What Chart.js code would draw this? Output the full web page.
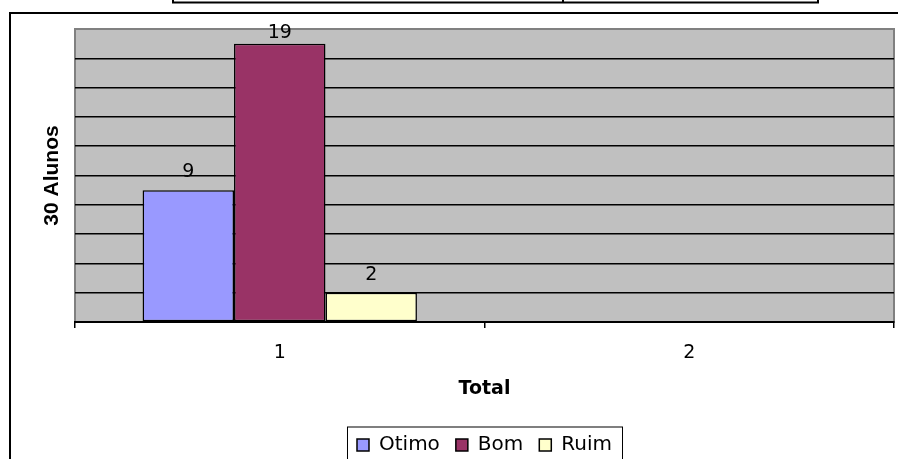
<!DOCTYPE html>
<html>
<head>
<meta charset="utf-8">
<script src="https://cdn.jsdelivr.net/npm/chart.js@4.4.0/dist/chart.umd.min.js"></script>
<style>
  html, body { margin: 0; padding: 0; background: #fff; }
  canvas { display: block; }
</style>
</head>
<body>
<canvas id="chart" width="898" height="459"></canvas>
<script>
// values
const categories = ['1', '2'];
const otimo = [9, null];
const bom = [19, null];
const ruim = [2, null];
const seriesNames = ['Otimo', 'Bom', 'Ruim'];
const seriesColors = ['#9999FF', '#993366', '#FFFFCC'];
const yMax = 20;
const yStep = 2;

const wide = "'DejaVu Sans', sans-serif";
const arial = "'Liberation Sans', Arial, sans-serif";

Chart.defaults.color = '#000';

// grey plot area, outer frame and the bit of table above the chart
const framePlugin = {
  id: 'frame',
  beforeDraw(chart) {
    const { ctx, chartArea: a } = chart;
    ctx.save();
    ctx.fillStyle = '#fff';
    ctx.fillRect(0, 0, chart.width, chart.height);
    ctx.fillStyle = '#C0C0C0';
    ctx.fillRect(a.left, a.top, a.right - a.left, a.bottom - a.top);
    ctx.strokeStyle = '#808080';
    ctx.lineWidth = 2;
    ctx.strokeRect(a.left, a.top, a.right - a.left, a.bottom - a.top);

    ctx.strokeStyle = '#000';
    ctx.lineWidth = 2;
    ctx.beginPath();
    ctx.moveTo(10, chart.height);
    ctx.lineTo(10, 13);
    ctx.lineTo(chart.width, 13);
    ctx.stroke();

    ctx.beginPath();
    ctx.moveTo(173, 0);
    ctx.lineTo(173, 2.5);
    ctx.lineTo(818, 2.5);
    ctx.lineTo(818, 0);
    ctx.moveTo(563, 0);
    ctx.lineTo(563, 2.5);
    ctx.stroke();
    ctx.restore();
  },
  afterLayout(chart) {
    // centre the legend under the plot area
    const lg = chart.legend;
    if (lg) {
      lg.left = chart.chartArea.left;
      lg.right = chart.chartArea.right;
    }
  },
  afterDraw(chart) {
    const lg = chart.legend;
    if (!lg || !lg.legendHitBoxes.length) return;
    const boxes = lg.legendHitBoxes;
    const first = boxes[0];
    const last = boxes[boxes.length - 1];
    const { ctx } = chart;
    ctx.save();
    ctx.strokeStyle = '#000';
    ctx.lineWidth = 1;
    ctx.strokeRect(first.left - 9.5, first.top - 8, last.left + last.width - first.left + 20, 60);
    ctx.restore();
  }
};

// numbers above the bars, kept inside the plot area
const valueLabels = {
  id: 'valueLabels',
  afterDatasetsDraw(chart) {
    const { ctx, chartArea } = chart;
    ctx.save();
    ctx.font = `19px ${wide}`;
    ctx.fillStyle = '#000';
    ctx.textAlign = 'center';
    ctx.textBaseline = 'alphabetic';
    chart.data.datasets.forEach((ds, i) => {
      chart.getDatasetMeta(i).data.forEach((bar, j) => {
        const v = ds.data[j];
        if (v === null || v === undefined) return;
        const y = Math.max(bar.y - 13, chartArea.top + 9);
        ctx.fillText(String(v), bar.x, y);
      });
    });
    ctx.restore();
  }
};

const ctx = document.getElementById('chart').getContext('2d');

new Chart(ctx, {
  type: 'bar',
  data: {
    labels: categories,
    datasets: [otimo, bom, ruim].map((vals, i) => ({
      label: seriesNames[i],
      data: vals,
      backgroundColor: seriesColors[i],
      borderColor: '#000',
      borderWidth: 1.5,
      borderSkipped: false,
      categoryPercentage: 0.67,
      barPercentage: 1
    }))
  },
  options: {
    responsive: false,
    animation: false,
    layout: { padding: { left: 0, top: 29, right: 4, bottom: -6 } },
    plugins: {
      legend: {
        position: 'bottom',
        labels: {
          boxWidth: 12,
          boxHeight: 12,
          padding: 16,
          color: '#000',
          font: { family: wide, size: 20 }
        }
      },
      tooltip: { enabled: false }
    },
    scales: {
      x: {
        grid: { display: true, drawOnChartArea: false, drawTicks: true, tickLength: 6, color: '#000', lineWidth: 1.5 },
        border: { display: true, color: '#000', width: 2 },
        ticks: { color: '#000', padding: 14, font: { family: wide, size: 19 } },
        title: {
          display: true,
          text: 'Total',
          color: '#000',
          font: { family: wide, size: 19, weight: 'bold' },
          padding: { top: 0, bottom: 18.6 }
        },
        afterFit(scale) { scale.height = 97; }
      },
      y: {
        min: 0,
        max: yMax,
        ticks: { display: false, stepSize: yStep },
        grid: {
          drawTicks: false,
          lineWidth: 1.5,
          color: (c) => (c.tick && c.tick.value === yMax ? 'rgba(0,0,0,0)' : '#000')
        },
        border: { display: false },
        title: {
          display: true,
          text: '30 Alunos',
          color: '#000',
          font: { family: arial, size: 21, weight: 'bold' },
          padding: { top: 40, bottom: 0 }
        },
        afterFit(scale) { scale.width = 75; }
      }
    }
  },
  plugins: [framePlugin, valueLabels]
});
</script>
</body>
</html>
